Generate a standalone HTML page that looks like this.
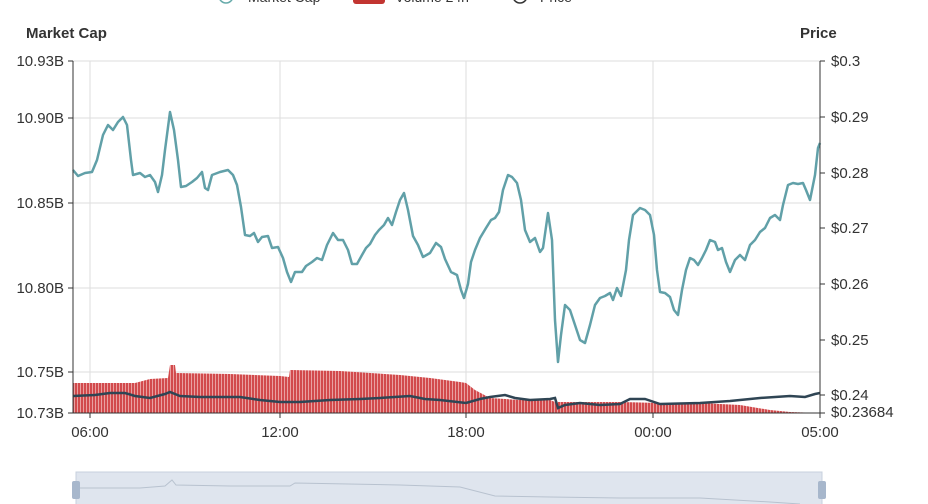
<!DOCTYPE html>
<html><head><meta charset="utf-8"><style>
html,body{margin:0;padding:0;background:#fff;width:928px;height:504px;overflow:hidden}
svg text{font-family:"Liberation Sans",sans-serif}
</style></head><body>
<svg width="928" height="504" viewBox="0 0 928 504" xmlns="http://www.w3.org/2000/svg">
<defs>
<pattern id="vb" width="3" height="10" patternUnits="userSpaceOnUse">
<rect width="3" height="10" fill="#d24a4c"/><rect x="2.3" width="0.7" height="10" fill="#f3c5c5"/>
</pattern>
</defs>
<!-- legend (cut off) -->
<circle cx="226" cy="-4" r="7" fill="none" stroke="#6aa" stroke-width="1.5"/>
<text x="248" y="2" font-size="14" fill="#333">Market Cap</text>
<rect x="353" y="-12" width="32" height="16" rx="3" fill="#c23531"/>
<text x="395" y="2" font-size="14" fill="#333">Volume 24h</text>
<circle cx="520" cy="-4" r="7" fill="none" stroke="#333" stroke-width="1.5"/>
<text x="540" y="2" font-size="14" fill="#333">Price</text>
<!-- axis names -->
<text x="26" y="38" font-size="15" font-weight="bold" fill="#333">Market Cap</text>
<text x="800" y="38" font-size="15" font-weight="bold" fill="#333">Price</text>
<!-- grid -->
<g stroke="#ddd" stroke-width="1">
<line x1="73" y1="61" x2="820" y2="61"/><line x1="73" y1="118" x2="820" y2="118"/>
<line x1="73" y1="203" x2="820" y2="203"/><line x1="73" y1="288" x2="820" y2="288"/>
<line x1="73" y1="372" x2="820" y2="372"/>
<line x1="90" y1="61" x2="90" y2="413"/><line x1="280" y1="61" x2="280" y2="413"/>
<line x1="466" y1="61" x2="466" y2="413"/><line x1="653" y1="61" x2="653" y2="413"/>
</g>
<!-- volume -->
<path fill="url(#vb)" d="M73,383 L135,383 L150,379 L168,378 L170,365 L175,365 L176,373 L230,374 L280,376 L289,377 L290,370 L340,371 L400,375 L430,378 L460,382 L466,383 L475,390 L490,398 L520,400 L550,400 L555,402 L620,402 L660,403 L700,403 L740,405 L770,410 L790,412 L820,413 L73,413 Z"/>
<!-- price -->
<polyline fill="none" stroke="#2f4554" stroke-width="2.5" points="73,396 95,395 110,393 125,393 135,396 150,398 165,394 170,392 180,396 200,397 240,397 260,400 280,402 300,402 330,400 360,399 380,398 410,396 425,399 440,400 466,403 480,399 490,397 505,395 515,398 530,400 550,399 555,398 558,408 565,405 580,403 600,405 620,404 630,399 645,399 660,404 700,403 730,401 760,398 790,396 805,397 815,394 820,393"/>
<!-- market cap -->
<polyline fill="none" stroke="#61a0a8" stroke-width="2.5" stroke-linejoin="round" points="73,170 78,176 85,173 92,172 97,160 103,135 108,125 113,130 118,122 123,117 127,125 131,160 133,175 140,173 145,177 150,175 155,182 158,192 162,175 165,150 170,112 174,130 178,160 181,187 186,186 192,182 197,178 202,172 205,188 208,190 212,175 220,172 228,170 233,175 237,185 241,207 245,235 250,236 254,233 258,242 262,237 268,236 272,248 278,247 283,258 287,272 291,282 295,272 302,272 306,266 312,262 317,258 322,260 327,245 333,233 338,240 343,240 348,250 352,264 357,264 362,255 366,248 370,244 375,235 379,230 384,225 388,218 392,225 396,212 400,200 404,193 408,210 413,236 418,245 423,257 430,253 436,243 441,247 445,259 451,272 457,275 461,290 464,298 468,284 471,262 475,250 480,238 486,228 491,220 495,218 499,212 503,190 508,175 512,177 517,183 521,200 525,230 530,242 535,238 540,252 543,248 548,213 552,240 555,320 558,362 561,335 565,305 570,310 575,325 580,340 585,343 590,325 595,305 600,298 605,296 610,293 613,300 617,288 621,296 626,270 629,240 633,215 640,208 645,210 650,215 654,235 657,270 660,292 665,293 670,297 674,310 678,315 682,290 686,270 690,258 694,260 698,265 702,258 706,250 710,240 715,242 718,250 722,248 726,262 730,272 735,260 740,255 745,260 750,245 755,240 760,232 765,228 770,218 775,215 780,220 783,205 788,185 793,183 798,184 803,183 806,190 810,200 815,175 818,148 820,143"/>
<!-- axes -->
<g stroke="#333" stroke-width="1">
<line x1="73" y1="61" x2="73" y2="413"/><line x1="820" y1="61" x2="820" y2="413"/>
<line x1="73" y1="413" x2="820" y2="413"/>
<line x1="68" y1="61" x2="73" y2="61"/><line x1="68" y1="118" x2="73" y2="118"/><line x1="68" y1="203" x2="73" y2="203"/><line x1="68" y1="288" x2="73" y2="288"/><line x1="68" y1="372" x2="73" y2="372"/><line x1="68" y1="413" x2="73" y2="413"/>
<line x1="820" y1="61" x2="825" y2="61"/><line x1="820" y1="117" x2="825" y2="117"/><line x1="820" y1="173" x2="825" y2="173"/><line x1="820" y1="228" x2="825" y2="228"/><line x1="820" y1="284" x2="825" y2="284"/><line x1="820" y1="340" x2="825" y2="340"/><line x1="820" y1="395" x2="825" y2="395"/><line x1="820" y1="413" x2="825" y2="413"/>
<line x1="90" y1="413" x2="90" y2="418"/><line x1="280" y1="413" x2="280" y2="418"/><line x1="466" y1="413" x2="466" y2="418"/><line x1="653" y1="413" x2="653" y2="418"/><line x1="820" y1="413" x2="820" y2="418"/>
</g>
<g font-size="15" fill="#333" text-anchor="end">
<text x="64" y="66">10.93B</text><text x="64" y="123">10.90B</text><text x="64" y="208">10.85B</text><text x="64" y="293">10.80B</text><text x="64" y="377">10.75B</text><text x="64" y="418">10.73B</text>
</g>
<g font-size="15" fill="#333">
<text x="831" y="66">$0.3</text><text x="831" y="122">$0.29</text><text x="831" y="178">$0.28</text><text x="831" y="233">$0.27</text><text x="831" y="289">$0.26</text><text x="831" y="345">$0.25</text><text x="831" y="400">$0.24</text><text x="831" y="417">$0.23684</text>
</g>
<g font-size="15" fill="#333" text-anchor="middle">
<text x="90" y="437">06:00</text><text x="280" y="437">12:00</text><text x="466" y="437">18:00</text><text x="653" y="437">00:00</text><text x="820" y="437">05:00</text>
</g>
<!-- datazoom -->
<rect x="76" y="472" width="746" height="34" fill="#dfe5ee" stroke="#c7d0dd"/>
<polyline fill="none" stroke="#b8c2cf" stroke-width="1" points="78,488 140,488 165,486 172,480 176,485 230,486 290,486 295,483 400,485 460,487 495,496 550,497 620,498 700,498 770,502 800,504"/>
<rect x="72" y="481" width="8" height="18" rx="2" fill="#a7b7cc"/>
<rect x="818" y="481" width="8" height="18" rx="2" fill="#a7b7cc"/>
</svg>
</body></html>
